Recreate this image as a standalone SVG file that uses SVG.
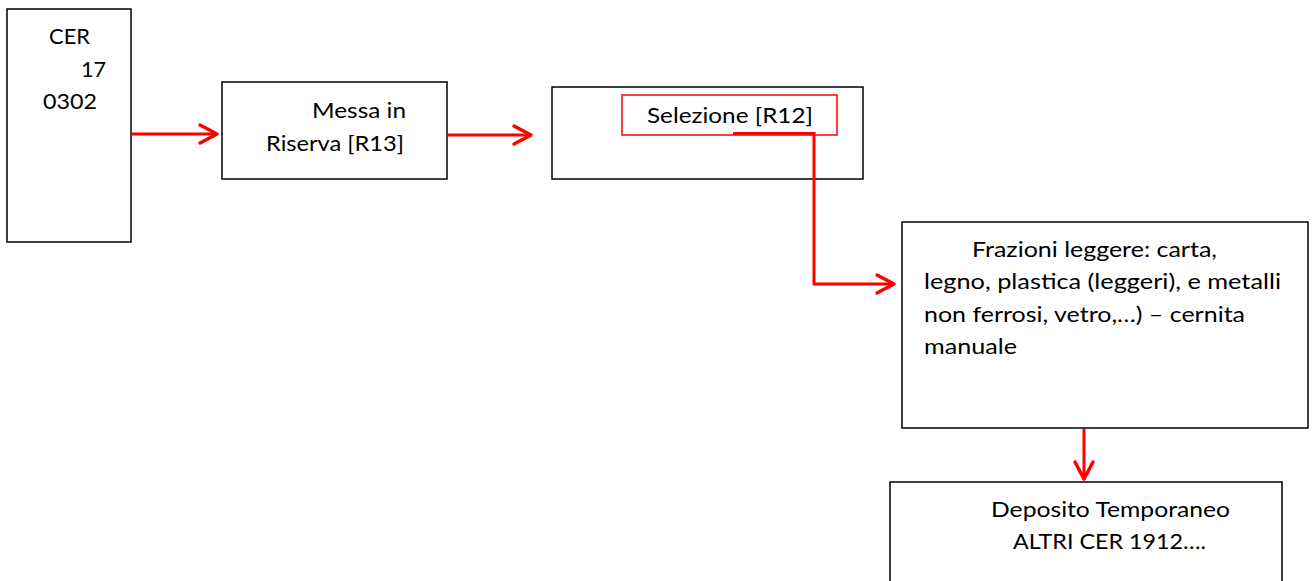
<svg xmlns="http://www.w3.org/2000/svg" width="1314" height="581" viewBox="0 0 1314 581">
<style>
.box{fill:#fff;stroke:#000;stroke-width:1.5}
.t{font-family:Lato,"Open Sans",sans-serif;font-size:22px;fill:#000}
.c{fill:none;stroke:#f00;stroke-width:3}
.h{fill:none;stroke:#f00;stroke-width:3.5;stroke-linecap:round;stroke-linejoin:round}
</style>
<rect width="1314" height="581" fill="#fff"/>
<g id="cer">
<rect class="box" x="7" y="9" width="124" height="233"/>
<text class="t" x="49" y="44" textLength="41" lengthAdjust="spacingAndGlyphs">CER</text>
<text class="t" x="81" y="77" textLength="25" lengthAdjust="spacingAndGlyphs">17</text>
<text class="t" x="43" y="109" textLength="54" lengthAdjust="spacingAndGlyphs">0302</text>
</g>
<g id="riserva">
<rect class="box" x="222" y="82" width="225" height="97"/>
<text class="t" x="312" y="118" textLength="94" lengthAdjust="spacingAndGlyphs">Messa in</text>
<text class="t" x="266" y="151" textLength="138" lengthAdjust="spacingAndGlyphs">Riserva [R13]</text>
</g>
<g id="selezione">
<rect class="box" x="552" y="87" width="311" height="92"/>
<rect x="622" y="95" width="215" height="40" fill="none" stroke="#f00" stroke-width="1.5"/>
<text class="t" x="647" y="123" textLength="166" lengthAdjust="spacingAndGlyphs">Selezione [R12]</text>
</g>
<g id="frazioni">
<rect class="box" x="902" y="222" width="406" height="206"/>
<text class="t" x="972" y="257" textLength="245" lengthAdjust="spacingAndGlyphs">Frazioni leggere: carta,</text>
<text class="t" x="924" y="289" textLength="357" lengthAdjust="spacingAndGlyphs">legno, plastica (leggeri), e metalli</text>
<text class="t" x="924" y="322" textLength="321" lengthAdjust="spacingAndGlyphs">non ferrosi, vetro,…) – cernita</text>
<text class="t" x="924" y="354" textLength="93" lengthAdjust="spacingAndGlyphs">manuale</text>
</g>
<g id="deposito">
<rect class="box" x="890" y="482" width="392" height="110"/>
<text class="t" x="991" y="517" textLength="239" lengthAdjust="spacingAndGlyphs">Deposito Temporaneo</text>
<text class="t" x="1013" y="549" textLength="193" lengthAdjust="spacingAndGlyphs">ALTRI CER 1912….</text>
</g>
<g id="connectors">
<line class="c" x1="132" y1="134" x2="216" y2="134"/>
<polyline class="h" points="200,125 217,134 200,143"/>
<line class="c" x1="448" y1="135" x2="530" y2="135"/>
<polyline class="h" points="514,126 531,135 514,144"/>
<polyline class="c" points="733,133.5 814,133.5 814,284 893,284"/>
<polyline class="h" points="877,275 894,284 877,293"/>
<line class="c" x1="1084" y1="429" x2="1084" y2="478"/>
<polyline class="h" points="1075,462 1084,479 1093,462"/>
</g>
</svg>
